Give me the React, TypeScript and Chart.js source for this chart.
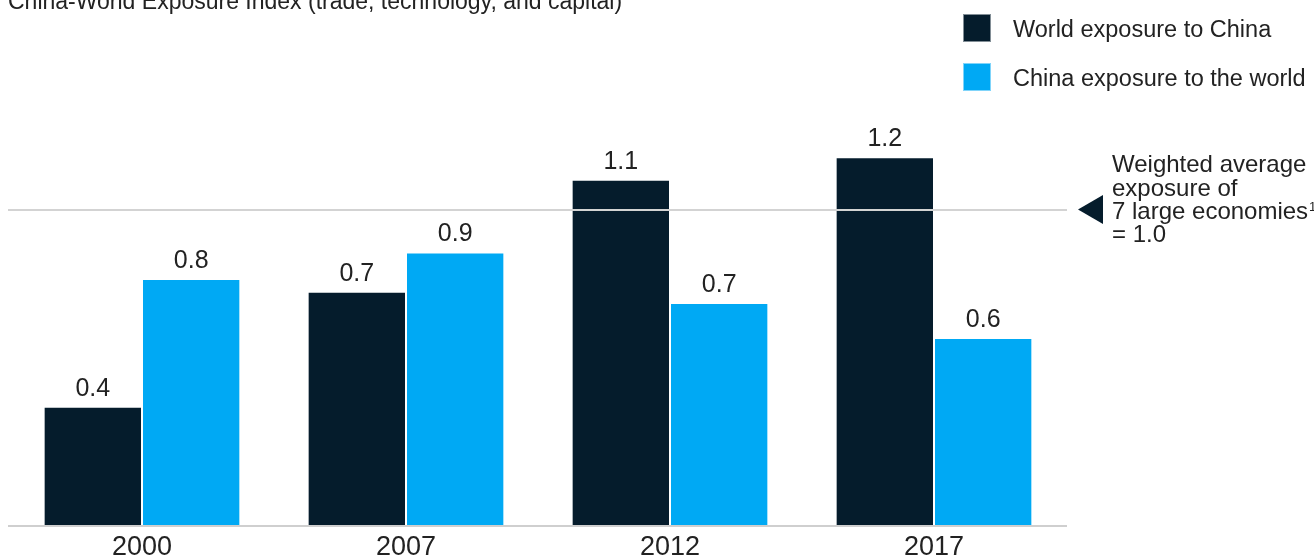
import React, { useEffect, useRef } from 'react';
import { Chart, registerables } from 'chart.js';

Chart.register(...registerables);

const TITLE = 'China-World Exposure Index (trade, technology, and capital)';
const categories = ['2000', '2007', '2012', '2017'];
const worldExposure = [0.375, 0.739, 1.094, 1.166];
const chinaExposure = [0.78, 0.864, 0.704, 0.593];
const worldLabels = ['0.4', '0.7', '1.1', '1.2'];
const chinaLabels = ['0.8', '0.9', '0.7', '0.6'];
const seriesNames = ['World exposure to China', 'China exposure to the world'];
const seriesColors = ['#051C2C', '#00A9F4'];
const referenceValue = 1.0;
const referenceNote = ['Weighted average', 'exposure of', '7 large economies', '= 1.0'];
const referenceNoteSup = '1';

const FONT = "'Liberation Sans', Arial, Helvetica, sans-serif";
const TEXT = '#222222';

const overlayPlugin = {
  id: 'overlay',
  afterDatasetsDraw(chart: any) {
    const { ctx, chartArea, scales } = chart;
    const ys = scales.y;
    ctx.save();
    // reference line
    const ry = Math.round(ys.getPixelForValue(referenceValue));
    ctx.strokeStyle = '#d3d3d3';
    ctx.lineWidth = 2;
    ctx.beginPath();
    ctx.moveTo(chartArea.left - 2, ry);
    ctx.lineTo(chartArea.right + 1, ry);
    ctx.stroke();
    // baseline
    ctx.strokeStyle = '#cfcfcf';
    ctx.beginPath();
    ctx.moveTo(chartArea.left - 2, chartArea.bottom + 1);
    ctx.lineTo(chartArea.right + 1, chartArea.bottom + 1);
    ctx.stroke();
    // data labels
    const labelSets = [worldLabels, chinaLabels];
    ctx.fillStyle = TEXT;
    ctx.font = `25px ${FONT}`;
    ctx.textAlign = 'center';
    ctx.textBaseline = 'alphabetic';
    chart.data.datasets.forEach((_: any, di: number) => {
      const meta = chart.getDatasetMeta(di);
      meta.data.forEach((el: any, i: number) => {
        ctx.fillText(labelSets[di][i], el.x, el.y - 11);
      });
    });
    ctx.restore();
  },
  afterDraw(chart: any) {
    const { ctx, chartArea, scales } = chart;
    const ys = scales.y;
    ctx.save();
    // triangle marker
    const ty = ys.getPixelForValue(referenceValue);
    const tipX = chartArea.right + 12;
    ctx.fillStyle = seriesColors[0];
    ctx.beginPath();
    ctx.moveTo(tipX, ty);
    ctx.lineTo(tipX + 25, ty - 14.5);
    ctx.lineTo(tipX + 25, ty + 14.5);
    ctx.closePath();
    ctx.fill();
    // note text
    ctx.fillStyle = TEXT;
    ctx.font = `24px ${FONT}`;
    ctx.textAlign = 'left';
    ctx.textBaseline = 'alphabetic';
    const nx = 1112;
    const baselines = [172, 195.5, 218.5, 242];
    referenceNote.forEach((line, i) => {
      ctx.fillText(line, nx, baselines[i]);
    });
    const w = ctx.measureText(referenceNote[2]).width;
    ctx.font = `13px ${FONT}`;
    ctx.fillText(referenceNoteSup, nx + w + 1, baselines[2] - 8);
    // legend
    const boxY = [14, 63];
    seriesNames.forEach((name, i) => {
      ctx.fillStyle = seriesColors[i];
      ctx.fillRect(963, boxY[i], 28, 28);
      ctx.strokeStyle = 'rgba(255,255,255,0.5)';
      ctx.lineWidth = 1;
      ctx.strokeRect(963.5, boxY[i] + 0.5, 27, 27);
      ctx.fillStyle = TEXT;
      ctx.font = `23.5px ${FONT}`;
      ctx.fillText(name, 1013, boxY[i] + 22.5);
    });
    // title
    ctx.font = `23px ${FONT}`;
    ctx.fillStyle = TEXT;
    ctx.fillText(TITLE, 8, 9);
    ctx.restore();
  },
};

export default function App() {
  const canvasRef = useRef<HTMLCanvasElement | null>(null);

  useEffect(() => {
    document.body.style.margin = '0';
    const canvas = canvasRef.current;
    if (!canvas) return;
    const chart = new Chart(canvas, {
      type: 'bar',
      data: {
        labels: categories,
        datasets: [
          {
            label: seriesNames[0],
            data: worldExposure,
            backgroundColor: seriesColors[0],
            borderColor: 'rgba(255,255,255,0.5)',
            borderWidth: 1,
            categoryPercentage: 0.745,
            barPercentage: 1,
          },
          {
            label: seriesNames[1],
            data: chinaExposure,
            backgroundColor: seriesColors[1],
            borderColor: 'rgba(255,255,255,0.5)',
            borderWidth: 1,
            categoryPercentage: 0.745,
            barPercentage: 1,
          },
        ],
      } as any,
      options: {
        responsive: false,
        animation: false,
        devicePixelRatio: 1,
        layout: { padding: { top: 83.3, left: 10, right: 248, bottom: 0 } },
        plugins: {
          legend: { display: false },
          tooltip: { enabled: false },
          title: { display: false },
        },
        scales: {
          x: {
            grid: { display: false, drawTicks: false },
            border: { display: false },
            ticks: {
              color: TEXT,
              font: { family: FONT, size: 27, lineHeight: 1 },
              padding: 9,
              maxRotation: 0,
              autoSkip: false,
            },
            afterFit(scale: any) {
              scale.height = 33;
            },
          },
          y: { display: false, min: 0, max: 1.4 },
        },
      } as any,
      plugins: [overlayPlugin],
    });
    return () => chart.destroy();
  }, []);

  return (
    <div style={{ position: 'relative', width: 1314, height: 558 }}>
      <canvas ref={canvasRef} width={1314} height={558} style={{ display: 'block', width: 1314, height: 558 }} />
    </div>
  );
}
